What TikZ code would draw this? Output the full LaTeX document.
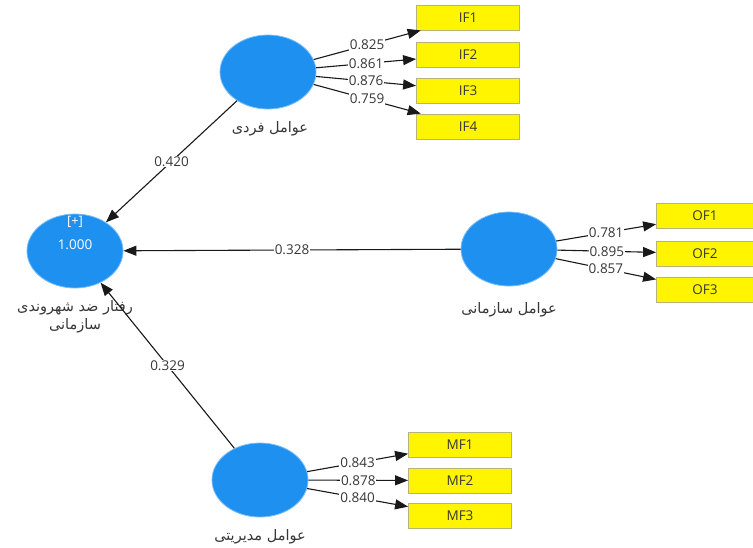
\documentclass[tikz,border=0pt]{standalone}
\usepackage{fontspec}
\setmainfont{Open Sans}
\newfontfamily\arabicfont[Script=Arabic]{DejaVu Sans}
\TeXXeTstate=1
\usetikzlibrary{shapes.geometric,arrows.meta}
\definecolor{lvblue}{RGB}{30,144,240}
\definecolor{lvedge}{RGB}{120,190,250}
\definecolor{mvyellow}{RGB}{255,245,0}
\definecolor{mvedge}{RGB}{180,180,120}
\definecolor{txt}{RGB}{55,55,55}
\tikzset{
  latent/.style={ellipse,fill=lvblue,draw=lvedge,line width=0.8pt,minimum width=96pt,minimum height=74pt,inner sep=0pt},
  manifest/.style={rectangle,fill=mvyellow,draw=mvedge,line width=0.8pt,minimum width=103pt,minimum height=25pt,inner sep=0pt,font=\fontsize{13.5}{15}\selectfont,text=txt},
  arr/.style={draw=black!90,line width=1.1pt,-{Triangle[length=13pt,width=10pt]}},
  wlabel/.style={fill=white,inner sep=1pt,font=\fontsize{13.5}{15}\selectfont,text=txt},
  plabel/.style={font=\arabicfont\fontsize{14.5}{17}\selectfont,text=txt,inner sep=0pt}
}
\begin{document}
\begin{tikzpicture}[x=1pt,y=-1pt]
\useasboundingbox[fill=white] (0,0) rectangle (753,547);
% latent variables
\node[latent] (T) at (75,251) {};
\node[font=\fontsize{13}{15}\selectfont,text=white] (Tplus) at (75,222) {[+]};
\node[font=\fontsize{13.5}{15}\selectfont,text=white] (Tval) at (75,245) {1.000};
\node[latent] (IF) at (268,72) {};
\node[latent] (OF) at (509,249) {};
\node[latent] (MF) at (260,480) {};
% latent labels
\node[plabel] (Tl1) at (75,308) {\beginR رفتار ضد شهروندی\endR};
\node[plabel] (Tl2) at (75,326) {\beginR سازمانی\endR};
\node[plabel] (IFl) at (270,129) {\beginR عوامل فردی\endR};
\node[plabel] (OFl) at (509,310) {\beginR عوامل سازمانی\endR};
\node[plabel] (MFl) at (260,537) {\beginR عوامل مدیریتی\endR};
% indicators
\node[manifest] (IF1) at (468,17.5) {IF1};
\node[manifest] (IF2) at (468,54.5) {IF2};
\node[manifest] (IF3) at (468,90.5) {IF3};
\node[manifest] (IF4) at (468,126.5) {IF4};
\node[manifest,minimum width=97pt] (OF1) at (705,216) {OF1};
\node[manifest,minimum width=97pt] (OF2) at (705,253.5) {OF2};
\node[manifest,minimum width=97pt] (OF3) at (705,289.5) {OF3};
\node[manifest] (MF1) at (460,444.5) {MF1};
\node[manifest] (MF2) at (460,480.5) {MF2};
\node[manifest] (MF3) at (460,516) {MF3};
% outer loadings
\draw[arr] (IF) -- node[wlabel] {0.825} (IF1);
\draw[arr] (IF) -- node[wlabel] {0.861} (IF2);
\draw[arr] (IF) -- node[wlabel] {0.876} (IF3);
\draw[arr] (IF) -- node[wlabel] {0.759} (IF4);
\draw[arr] (OF) -- node[wlabel] {0.781} (OF1);
\draw[arr] (OF) -- node[wlabel] {0.895} (OF2);
\draw[arr] (OF) -- node[wlabel] {0.857} (OF3);
\draw[arr] (MF) -- node[wlabel] {0.843} (MF1);
\draw[arr] (MF) -- node[wlabel] {0.878} (MF2);
\draw[arr] (MF) -- node[wlabel] {0.840} (MF3);
% path coefficients
\draw[arr] (IF) -- node[wlabel] {0.420} (T);
\draw[arr] (OF) -- node[wlabel] {0.328} (T);
\draw[arr] (MF) -- node[wlabel] {0.329} (T);
\end{tikzpicture}
\end{document}
